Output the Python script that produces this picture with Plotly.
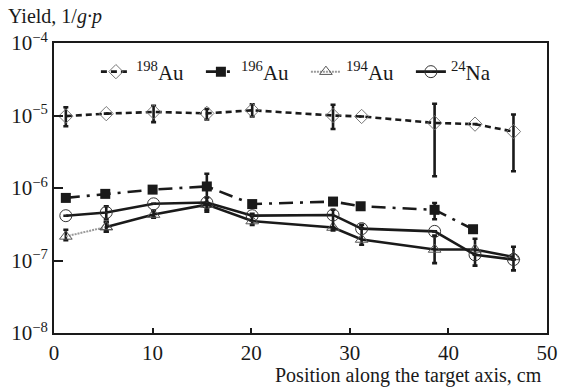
import plotly.graph_objects as go

# Positions along the target axis (cm)
x_au198 = [1.2, 5.3, 10.1, 15.5, 20.1, 28.3, 31.2, 38.6, 42.7, 46.6]
x_au196 = [1.2, 5.2, 10.0, 15.5, 20.1, 28.3, 31.1, 38.6, 42.5]
x_au194 = [1.2, 5.3, 10.1, 15.5, 20.1, 28.3, 31.2, 38.6, 42.7, 46.6]
x_na24 = [1.2, 5.3, 10.1, 15.5, 20.1, 28.3, 31.2, 38.6, 42.7, 46.6]

# Yields, 1/(g·p)
y_au198 = [9.8e-6, 1.06e-5, 1.12e-5, 1.07e-5, 1.18e-5, 1.0e-5, 9.7e-6, 7.9e-6, 7.6e-6, 6.0e-6]
y_au196 = [7.3e-7, 8.3e-7, 9.5e-7, 1.05e-6, 6.0e-7, 6.5e-7, 5.6e-7, 5.0e-7, 2.7e-7]
y_au194 = [2.15e-7, 2.9e-7, 4.3e-7, 5.9e-7, 3.5e-7, 2.85e-7, 1.95e-7, 1.42e-7, 1.42e-7, 1.12e-7]
y_na24 = [4.15e-7, 4.6e-7, 6.05e-7, 6.3e-7, 4.15e-7, 4.25e-7, 2.75e-7, 2.52e-7, 1.2e-7, 1.03e-7]

# Error-bar bounds (upper, lower); None where no bar is drawn
hi_au198 = [1.3e-5, None, 1.36e-5, 1.23e-5, 1.43e-5, 1.41e-5, None, 1.45e-5, None, 1.03e-5]
lo_au198 = [7.1e-6, None, 8.1e-6, 8.8e-6, 9.7e-6, 6.5e-6, None, 1.45e-6, None, 1.7e-6]
hi_au196 = [None, None, None, 1.57e-6, None, None, None, 6.2e-7, None]
lo_au196 = [None, None, None, 5.0e-7, None, None, None, 3.7e-7, None]
hi_au194 = [2.65e-7, 3.4e-7, 4.8e-7, None, 4.4e-7, None, 3.1e-7, 2.2e-7, 2.0e-7, 1.55e-7]
lo_au194 = [1.9e-7, 2.5e-7, 3.9e-7, None, 3.1e-7, None, 1.65e-7, 9.2e-8, 8.5e-8, 7.3e-8]
hi_na24 = [None, 5.6e-7, None, 7.4e-7, None, 5.0e-7, None, None, None, None]
lo_na24 = [None, 3.7e-7, None, 4.7e-7, None, 2.6e-7, None, None, None, None]

y_tick_vals = [1e-8, 1e-7, 1e-6, 1e-5, 1e-4]
y_tick_text = ["10<sup>\u22128</sup>", "10<sup>\u22127</sup>", "10<sup>\u22126</sup>",
               "10<sup>\u22125</sup>", "10<sup>\u22124</sup>"]
x_tick_vals = [0, 10, 20, 30, 40, 50]

FONT = "Liberation Serif, Times New Roman, serif"
INK = "#1a1a1a"


def err(y, hi, lo):
    plus = [(h - v) if h is not None else 0 for v, h in zip(y, hi)]
    minus = [(v - l) if l is not None else 0 for v, l in zip(y, lo)]
    return dict(type="data", symmetric=False, array=plus, arrayminus=minus,
                color=INK, thickness=2.6, width=2.5)


fig = go.Figure()

fig.add_trace(go.Scatter(
    x=x_au198, y=y_au198, mode="lines+markers", name="<sup>198</sup>Au",
    line=dict(color=INK, width=2.6, dash="6px,4px"),
    marker=dict(symbol="diamond-open", size=11, color="#777", line=dict(width=1)),
    error_y=err(y_au198, hi_au198, lo_au198),
))

fig.add_trace(go.Scatter(
    x=x_au196, y=y_au196, mode="lines+markers", name="<sup>196</sup>Au",
    line=dict(color=INK, width=2.6, dash="14px,7px,3px,7px"),
    marker=dict(symbol="square", size=10, color=INK),
    error_y=err(y_au196, hi_au196, lo_au196),
))

# first 194Au segment is drawn in light grey
fig.add_trace(go.Scatter(
    x=x_au194[:2], y=y_au194[:2], mode="lines+markers", name="<sup>194</sup>Au",
    line=dict(color="#9a9a9a", width=2, dash="2px,1px"),
    marker=dict(symbol="triangle-up-open", size=11, color="#555", line=dict(width=1)),
    error_y=err(y_au194[:2], hi_au194[:2], lo_au194[:2]),
))
fig.add_trace(go.Scatter(
    x=x_au194[1:], y=y_au194[1:], mode="lines+markers", showlegend=False,
    line=dict(color=INK, width=2.6),
    marker=dict(symbol="triangle-up-open", size=11, color="#555", line=dict(width=1)),
    error_y=err(y_au194[1:], hi_au194[1:], lo_au194[1:]),
))

fig.add_trace(go.Scatter(
    x=x_na24, y=y_na24, mode="lines+markers", name="<sup>24</sup>Na",
    line=dict(color=INK, width=2.6),
    marker=dict(symbol="circle-open-dot", size=12, color="#333", line=dict(width=1)),
    error_y=err(y_na24, hi_na24, lo_na24),
))

fig.update_layout(
    width=569, height=390,
    margin=dict(l=54, r=11, t=43, b=57),
    paper_bgcolor="white", plot_bgcolor="white",
    font=dict(family=FONT, size=20, color=INK),
    showlegend=True,
    legend=dict(orientation="h", x=0.085, y=0.9, xanchor="left", yanchor="middle",
                bgcolor="rgba(0,0,0,0)", font=dict(size=21),
                entrywidth=60, entrywidthmode="pixels", itemwidth=30,
                traceorder="normal"),
    xaxis=dict(range=[0, 50], tickvals=x_tick_vals, ticks="inside", ticklen=5,
               tickwidth=1.5, tickcolor=INK, showgrid=False, zeroline=False,
               showline=True, linecolor=INK, linewidth=2, mirror=True,
               tickfont=dict(size=21)),
    yaxis=dict(type="log", range=[-8, -4], tickvals=y_tick_vals, ticktext=y_tick_text,
               ticks="inside", ticklen=9, tickwidth=2, tickcolor=INK,
               showgrid=False, zeroline=False, showline=True, linecolor=INK,
               linewidth=2, mirror=True, tickfont=dict(size=21)),
    annotations=[
        dict(text="Yield, 1/<i>g\u00b7p</i>", xref="paper", yref="paper",
             x=-0.098, y=1.0, xanchor="left", yanchor="bottom", yshift=13,
             showarrow=False, font=dict(size=20)),
        dict(text="Position along the target axis, cm", xref="paper", yref="paper",
             x=1.0, y=0, xanchor="right", yanchor="top", yshift=-29, xshift=-3,
             showarrow=False, font=dict(size=20)),
    ],
)

fig.write_html("out.html")
